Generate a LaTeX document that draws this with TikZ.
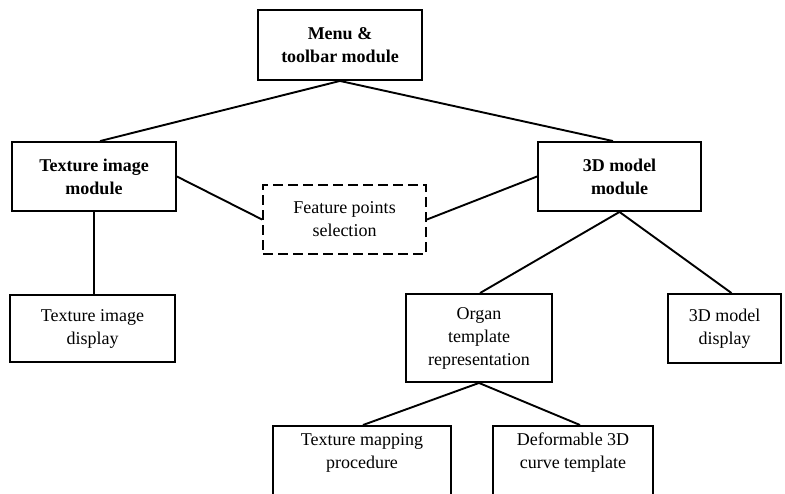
\documentclass[tikz,border=0pt]{standalone}
\usepackage{fontspec}
\setmainfont{Liberation Serif}
\begin{document}
\begin{tikzpicture}[x=1pt,y=-1pt,
  box/.style={draw=black, line width=1.9pt, rectangle, align=center, inner sep=0pt,
    font=\fontsize{18}{23}\selectfont},
  mod/.style={box, font=\fontsize{18}{23}\selectfont\bfseries},
  dbox/.style={box, dash pattern=on 10pt off 5pt},
  txt/.style={align=center, inner sep=0pt, font=\fontsize{18}{23}\selectfont},
  link/.style={draw=black, line width=1.9pt}]
\clip (0,0) rectangle (785,493);
\fill[white] (0,0) rectangle (785,493);
% boxes
\node[mod, minimum width=164pt, minimum height=70pt] (menu) at (340,45) {Menu \&\\toolbar module};
\node[mod, minimum width=164pt, minimum height=69pt] (tim) at (94,176.5) {Texture image\\module};
\node[mod, minimum width=163pt, minimum height=69pt] (mm) at (619.5,176.5) {3D model\\module};
\node[dbox, minimum width=163pt, minimum height=69pt] (fps) at (344.5,219.5) {Feature points\\selection};
\node[box, minimum width=165pt, minimum height=67pt] (tid) at (92.5,328.5) {Texture image\\display};
\node[box, minimum width=146pt, minimum height=88pt] (org) at (479,338) {Organ\\template\\representation};
\node[box, minimum width=113pt, minimum height=69pt] (mdd) at (724.5,328.5) {3D model\\display};
\node[box, minimum width=178pt, minimum height=100pt, anchor=north] (tmp) at (362,425) {};
\node[txt] (tmpt) at ([yshift=-28pt]tmp.north) {Texture mapping\\procedure};
\node[box, minimum width=160pt, minimum height=100pt, anchor=north] (dct) at (573,425) {};
\node[txt] (dctt) at ([yshift=-28pt]dct.north) {Deformable 3D\\curve template};
% connectors
\draw[link] (menu.south) -- ([xshift=6pt]tim.north);
\draw[link] (menu.south) -- ([xshift=-6.5pt]mm.north);
\draw[link] (tim.east) -- (fps.west);
\draw[link] (fps.east) -- (mm.west);
\draw[link] (tim.south) -- (tim.south |- tid.north);
\draw[link] (mm.south) -- ([xshift=1pt]org.north);
\draw[link] (mm.south) -- ([xshift=7pt]mdd.north);
\draw[link] (org.south) -- ([xshift=1pt]tmp.north);
\draw[link] (org.south) -- ([xshift=7pt]dct.north);
\end{tikzpicture}
\end{document}
